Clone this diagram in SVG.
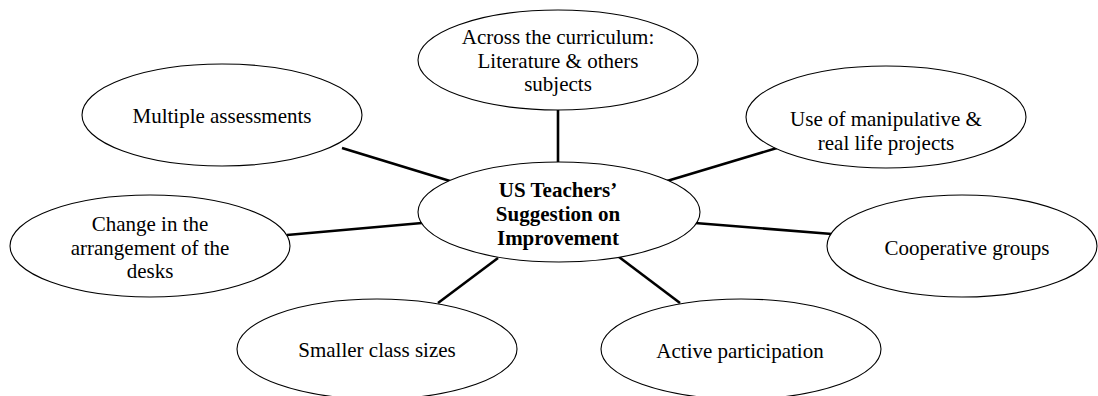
<svg xmlns="http://www.w3.org/2000/svg" width="1098" height="396" viewBox="0 0 1098 396">
<style>
.n ellipse{fill:#fff;stroke:#000;stroke-width:1.1}
text{font-family:"Liberation Serif","Times New Roman",serif;font-size:21px;fill:#000;text-anchor:middle}
.b{font-weight:bold}
#connectors line{stroke:#000;stroke-width:2.6}
</style>
<rect width="1098" height="396" fill="#fff"/>
<g id="connectors">
<line x1="558" y1="110" x2="558" y2="162"/>
<line x1="342" y1="148" x2="450" y2="181"/>
<line x1="777" y1="148" x2="667" y2="181"/>
<line x1="287" y1="235" x2="422" y2="223"/>
<line x1="695" y1="223" x2="832" y2="234"/>
<line x1="498" y1="258" x2="438" y2="303"/>
<line x1="619" y1="257" x2="680" y2="303"/>
</g>
<g id="center" class="n">
<ellipse cx="559" cy="212" rx="141" ry="50"/>
<text class="b" x="558" y="197">US Teachers’</text>
<text class="b" x="558" y="221">Suggestion on</text>
<text class="b" x="558" y="245">Improvement</text>
</g>
<g id="across" class="n">
<ellipse cx="558" cy="60" rx="140" ry="50"/>
<text x="558" y="44">Across the curriculum:</text>
<text x="558" y="67.5">Literature &amp; others</text>
<text x="558" y="91">subjects</text>
</g>
<g id="multiple" class="n">
<ellipse cx="222" cy="115" rx="140" ry="51"/>
<text x="222" y="123">Multiple assessments</text>
</g>
<g id="manipulative" class="n">
<ellipse cx="886" cy="117" rx="140" ry="51"/>
<text x="886" y="126">Use of manipulative &amp;</text>
<text x="886" y="150">real life projects</text>
</g>
<g id="desks" class="n">
<ellipse cx="150" cy="246" rx="140" ry="51"/>
<text x="150" y="231">Change in the</text>
<text x="150" y="254.5">arrangement of the</text>
<text x="150" y="278">desks</text>
</g>
<g id="cooperative" class="n">
<ellipse cx="962" cy="246" rx="135" ry="51"/>
<text x="967" y="255">Cooperative groups</text>
</g>
<g id="smaller" class="n">
<ellipse cx="377" cy="349" rx="140" ry="50"/>
<text x="377" y="357">Smaller class sizes</text>
</g>
<g id="active" class="n">
<ellipse cx="741" cy="349" rx="140" ry="50"/>
<text x="740" y="358">Active participation</text>
</g>
</svg>
